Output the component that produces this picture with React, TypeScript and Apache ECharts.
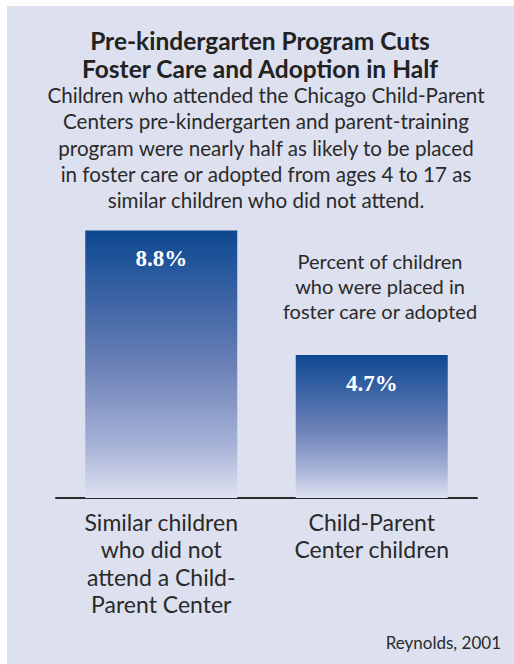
import React, { useEffect, useRef } from "react";
import * as echarts from "echarts";

const categories = [
  "Similar children\nwho did not\nattend a Child-\nParent Center",
  "Child-Parent\nCenter children",
];
const values = [8.8, 4.7];
const titleText = "Pre-kindergarten Program Cuts\nFoster Care and Adoption in Half";
const subtitleText =
  "Children who attended the Chicago Child-Parent\nCenters pre-kindergarten and parent-training\nprogram were nearly half as likely to be placed\nin foster care or adopted from ages 4 to 17 as\nsimilar children who did not attend.";
const noteText = "Percent of children\nwho were placed in\nfoster care or adopted";
const sourceText = "Reynolds, 2001";

const FONT = "Lato";

export default function App() {
  const ref = useRef<HTMLDivElement>(null);
  useEffect(() => {
    document.body.style.margin = "0";
    const chart = echarts.init(ref.current!, null, { renderer: "svg" });
    chart.setOption({
      animation: false,
      graphic: [
        {
          type: "rect",
          z: -10,
          shape: { x: 7, y: 6, width: 507, height: 658 },
          style: { fill: "#dde0ef" },
          silent: true,
        },
      ],
      title: [
        {
          text: titleText,
          left: 260,
          top: 26,
          padding: 0,
          textAlign: "center",
          textStyle: {
            fontFamily: FONT,
            fontSize: 24.5,
            fontWeight: "bold",
            lineHeight: 28,
            color: "#222222",
          },
        },
        {
          text: subtitleText,
          left: 266,
          top: 82,
          padding: 0,
          textAlign: "center",
          textStyle: {
            fontFamily: FONT,
            fontSize: 20.6,
            fontWeight: "normal",
            lineHeight: 26.3,
            color: "#2a2a2a",
          },
        },
        {
          text: noteText,
          left: 380,
          top: 248.5,
          padding: 0,
          textAlign: "center",
          textStyle: {
            fontFamily: FONT,
            fontSize: 20,
            fontWeight: "normal",
            lineHeight: 25,
            color: "#2a2a2a",
          },
        },
        {
          text: sourceText,
          right: 13,
          top: 632,
          padding: 0,
          textStyle: {
            fontFamily: FONT,
            fontSize: 17,
            fontWeight: "normal",
            lineHeight: 20,
            color: "#2a2a2a",
          },
        },
      ],
      grid: { left: 56, right: 37, top: 194, bottom: 166, containLabel: false },
      xAxis: {
        type: "category",
        data: categories,
        axisLine: { show: true, lineStyle: { color: "#2b2b2b", width: 2 } },
        axisTick: { show: false },
        axisLabel: {
          margin: 10,
          fontFamily: FONT,
          fontSize: 23,
          lineHeight: 27.5,
          color: "#2a2a2a",
          interval: 0,
        },
      },
      yAxis: {
        type: "value",
        min: 0,
        max: 10,
        show: false,
        splitLine: { show: false },
      },
      series: [
        {
          type: "bar",
          data: values,
          barWidth: 152,
          itemStyle: {
            color: new echarts.graphic.LinearGradient(0, 0, 0, 1, [
              { offset: 0, color: "#0c4890" },
              { offset: 0.15, color: "#28589d" },
              { offset: 0.5, color: "#6a7fb6" },
              { offset: 0.8, color: "#a6b2d7" },
              { offset: 1, color: "#dee1f0" },
            ]),
          },
          label: {
            show: true,
            position: "insideTop",
            distance: 17,
            formatter: "{c}%",
            fontFamily: "Liberation Serif",
            fontWeight: "bold",
            fontSize: 23,
            color: "#ffffff",
          },
        },
      ],
    });
    return () => chart.dispose();
  }, []);
  return (
    <div
      ref={ref}
      style={{ position: "absolute", left: 0, top: 0, width: 514, height: 664 }}
    />
  );
}
